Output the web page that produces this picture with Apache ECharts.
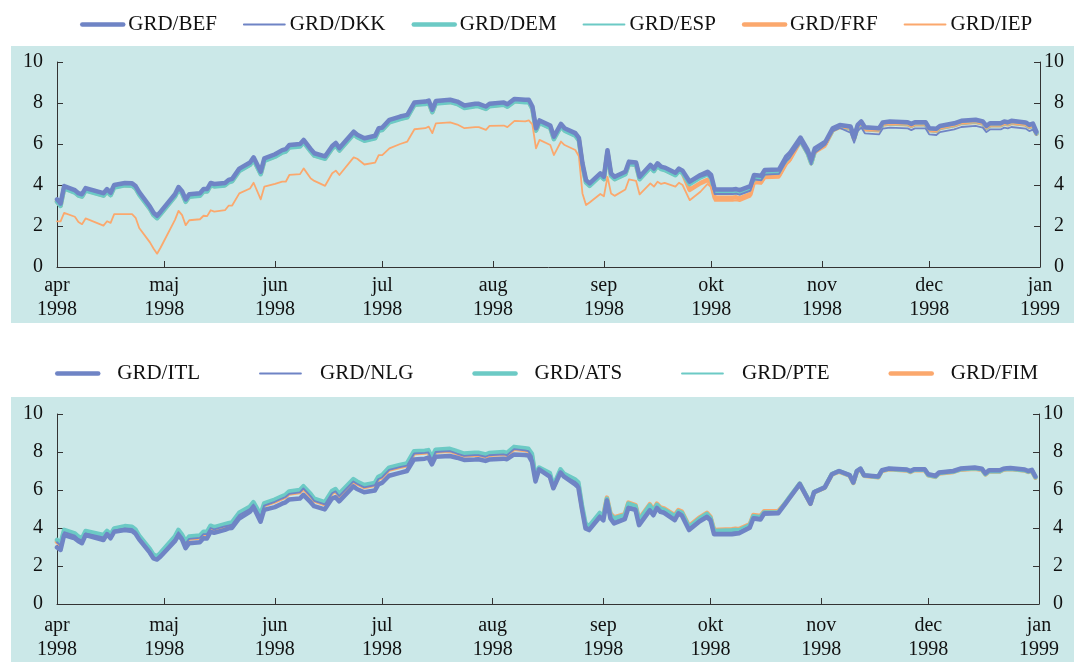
<!DOCTYPE html>
<html>
<head>
<meta charset="utf-8">
<script src="https://cdn.jsdelivr.net/npm/echarts@6/dist/echarts.min.js"></script>
<style>
html,body{margin:0;padding:0;background:#ffffff;}
#chart{width:1074px;height:662px;}
</style>
</head>
<body>
<div id="chart"></div>
<script>
const dates = [
'1998-04-01','1998-04-02','1998-04-03','1998-04-06','1998-04-07','1998-04-08','1998-04-09','1998-04-14','1998-04-15','1998-04-16','1998-04-17','1998-04-20','1998-04-22','1998-04-23','1998-04-24','1998-04-27','1998-04-28','1998-04-29','1998-04-30',
'1998-05-04','1998-05-05','1998-05-06','1998-05-07','1998-05-08','1998-05-11','1998-05-12','1998-05-13','1998-05-14','1998-05-15','1998-05-18','1998-05-19','1998-05-20','1998-05-22','1998-05-25','1998-05-26','1998-05-28','1998-05-29',
'1998-06-01','1998-06-03','1998-06-04','1998-06-05','1998-06-08','1998-06-09','1998-06-11','1998-06-12','1998-06-15','1998-06-17','1998-06-18','1998-06-19','1998-06-23','1998-06-24','1998-06-26','1998-06-29','1998-06-30',
'1998-07-01','1998-07-03','1998-07-06','1998-07-08','1998-07-10','1998-07-13','1998-07-14','1998-07-15','1998-07-16','1998-07-20','1998-07-22','1998-07-24','1998-07-27','1998-07-28','1998-07-30','1998-07-31',
'1998-08-04','1998-08-05','1998-08-07','1998-08-10','1998-08-11','1998-08-12','1998-08-13','1998-08-14','1998-08-17','1998-08-18','1998-08-20','1998-08-21','1998-08-24','1998-08-25','1998-08-26','1998-08-27','1998-08-28','1998-08-31',
'1998-09-01','1998-09-02','1998-09-03','1998-09-04','1998-09-07','1998-09-08','1998-09-10','1998-09-11','1998-09-14','1998-09-15','1998-09-16','1998-09-17','1998-09-18','1998-09-21','1998-09-22','1998-09-23','1998-09-25','1998-09-28','1998-09-30',
'1998-10-01','1998-10-02','1998-10-07','1998-10-08','1998-10-09','1998-10-12','1998-10-13','1998-10-15','1998-10-16','1998-10-20','1998-10-22','1998-10-23','1998-10-26','1998-10-28','1998-10-29','1998-10-30',
'1998-11-02','1998-11-04','1998-11-06','1998-11-09','1998-11-10','1998-11-11','1998-11-12','1998-11-13','1998-11-17','1998-11-18','1998-11-20','1998-11-25','1998-11-26','1998-11-27','1998-11-30',
'1998-12-01','1998-12-03','1998-12-04','1998-12-08','1998-12-10','1998-12-14','1998-12-16','1998-12-17','1998-12-18','1998-12-21','1998-12-22','1998-12-23','1998-12-24','1998-12-28','1998-12-29','1998-12-30','1998-12-31'
];

// Top panel
const GRD_BEF = [
3.30,3.10,3.95,3.75,3.60,3.55,3.85,3.60,3.80,3.62,4.00,4.10,4.08,3.95,3.65,2.95,2.65,2.50,2.70,
3.55,3.90,3.70,3.30,3.55,3.60,3.80,3.80,4.10,4.05,4.10,4.25,4.30,4.80,5.10,5.35,4.65,5.30,
5.50,5.70,5.75,5.95,6.00,6.20,5.75,5.55,5.40,5.90,6.05,5.80,6.60,6.45,6.28,6.40,6.77,
6.80,7.18,7.34,7.42,8.03,8.07,8.12,7.67,8.10,8.16,8.07,7.88,7.96,7.96,7.83,7.96,
8.03,7.94,8.20,8.16,8.16,7.83,6.77,7.15,6.90,6.36,6.98,6.77,6.53,6.30,5.06,4.24,4.08,4.57,
4.40,5.70,4.57,4.40,4.65,5.14,5.10,4.40,4.98,4.80,5.06,4.90,4.85,4.60,4.80,4.70,4.16,4.49,4.65,
4.49,3.78,3.78,3.80,3.75,3.95,4.49,4.45,4.73,4.76,5.38,5.55,6.31,5.71,5.22,5.79,
6.12,6.77,6.93,6.85,6.36,6.93,7.10,6.82,6.77,7.05,7.10,7.06,6.98,7.06,7.06,
6.77,6.74,6.88,7.01,7.13,7.18,7.10,6.88,7.01,7.01,7.10,7.06,7.13,7.05,6.93,7.00,6.60
];
const GRD_DKK = [
3.26,3.06,3.91,3.71,3.56,3.51,3.81,3.56,3.76,3.58,3.96,4.06,4.04,3.91,3.61,2.91,2.61,2.46,2.66,
3.51,3.86,3.66,3.26,3.51,3.56,3.76,3.76,4.06,4.01,4.06,4.21,4.26,4.76,5.06,5.31,4.61,5.26,
5.46,5.66,5.71,5.91,5.96,6.16,5.71,5.51,5.36,5.86,6.01,5.76,6.56,6.41,6.24,6.36,6.73,
6.76,7.14,7.30,7.38,7.99,8.03,8.08,7.63,8.06,8.12,8.03,7.84,7.92,7.92,7.79,7.92,
7.99,7.90,8.16,8.12,8.12,7.79,6.73,7.11,6.86,6.32,6.94,6.73,6.49,6.26,5.02,4.20,4.04,4.53,
4.36,5.66,4.53,4.36,4.61,5.10,5.06,4.36,4.94,4.76,5.02,4.86,4.81,4.56,4.76,4.66,4.12,4.40,4.52,
4.30,3.56,3.56,3.58,3.53,3.73,4.27,4.23,4.51,4.54,5.16,5.33,6.09,5.49,5.00,5.57,
5.97,6.62,6.78,6.55,6.06,6.63,6.80,6.52,6.47,6.75,6.80,6.76,6.68,6.76,6.76,
6.47,6.44,6.58,6.71,6.83,6.88,6.80,6.58,6.71,6.71,6.80,6.76,6.83,6.75,6.63,6.70,6.45
];
const GRD_DEM = [
3.18,2.98,3.83,3.63,3.48,3.43,3.73,3.48,3.68,3.50,3.88,3.98,3.96,3.83,3.53,2.83,2.53,2.38,2.58,
3.43,3.78,3.58,3.18,3.43,3.48,3.68,3.68,3.98,3.93,3.98,4.13,4.18,4.68,4.98,5.23,4.53,5.18,
5.38,5.58,5.63,5.83,5.88,6.08,5.63,5.43,5.28,5.78,5.93,5.68,6.48,6.33,6.16,6.28,6.65,
6.68,7.06,7.22,7.30,7.91,7.95,8.00,7.55,7.98,8.04,7.95,7.76,7.84,7.84,7.71,7.84,
7.91,7.82,8.08,8.04,8.04,7.71,6.65,7.03,6.78,6.24,6.86,6.65,6.41,6.18,4.94,4.12,3.96,4.45,
4.28,5.58,4.45,4.28,4.53,5.02,4.98,4.28,4.86,4.68,4.94,4.78,4.73,4.48,4.68,4.58,4.04,4.37,4.53,
4.34,3.63,3.63,3.65,3.60,3.80,4.34,4.30,4.58,4.61,5.23,5.40,6.16,5.56,5.07,5.64,
6.04,6.69,6.85,6.77,6.28,6.85,7.02,6.74,6.69,6.97,7.02,6.98,6.90,6.98,6.98,
6.69,6.66,6.80,6.93,7.05,7.10,7.02,6.80,6.93,6.93,7.02,6.98,7.05,6.97,6.85,6.92,6.52
];
const GRD_ESP = [
3.22,3.02,3.87,3.67,3.52,3.47,3.77,3.52,3.72,3.54,3.92,4.02,4.00,3.87,3.57,2.87,2.57,2.42,2.62,
3.47,3.82,3.62,3.22,3.47,3.52,3.72,3.72,4.02,3.97,4.02,4.17,4.22,4.72,5.02,5.27,4.57,5.22,
5.42,5.62,5.67,5.87,5.92,6.12,5.67,5.47,5.32,5.82,5.97,5.72,6.52,6.37,6.20,6.32,6.69,
6.72,7.10,7.26,7.34,7.95,7.99,8.04,7.59,8.02,8.08,7.99,7.80,7.88,7.88,7.75,7.88,
7.95,7.86,8.12,8.08,8.08,7.75,6.69,7.07,6.82,6.28,6.90,6.69,6.45,6.22,4.98,4.16,4.00,4.49,
4.32,5.62,4.49,4.32,4.57,5.06,5.02,4.32,4.90,4.72,4.98,4.82,4.77,4.52,4.72,4.62,4.08,4.41,4.57,
4.37,3.66,3.66,3.68,3.63,3.83,4.37,4.33,4.61,4.64,5.26,5.43,6.19,5.59,5.10,5.67,
6.06,6.71,6.87,6.79,6.30,6.87,7.04,6.76,6.71,6.99,7.04,7.00,6.92,7.00,7.00,
6.71,6.68,6.82,6.95,7.07,7.12,7.04,6.82,6.95,6.95,7.04,7.00,7.07,6.99,6.87,6.94,6.54
];
const GRD_FRF = [
3.20,3.00,3.85,3.65,3.50,3.45,3.75,3.50,3.70,3.52,3.90,4.00,3.98,3.85,3.55,2.85,2.55,2.40,2.60,
3.45,3.80,3.60,3.20,3.45,3.50,3.70,3.70,4.00,3.95,4.00,4.15,4.20,4.70,5.00,5.25,4.55,5.20,
5.40,5.60,5.65,5.85,5.90,6.10,5.65,5.45,5.30,5.80,5.95,5.70,6.50,6.35,6.18,6.30,6.67,
6.70,7.08,7.24,7.32,7.93,7.97,8.02,7.57,8.00,8.06,7.97,7.78,7.86,7.86,7.73,7.86,
7.93,7.84,8.10,8.06,8.06,7.73,6.67,7.05,6.80,6.26,6.88,6.67,6.43,6.20,4.96,4.14,3.98,4.47,
4.30,5.60,4.47,4.30,4.55,5.04,5.00,4.30,4.88,4.70,4.96,4.80,4.75,4.50,4.70,4.60,3.76,4.09,4.25,
4.09,3.38,3.38,3.40,3.35,3.55,4.19,4.15,4.43,4.46,5.08,5.25,6.16,5.56,5.07,5.64,
6.02,6.67,6.83,6.75,6.26,6.83,7.00,6.72,6.67,6.95,7.00,6.96,6.88,6.96,6.96,
6.67,6.64,6.78,6.91,7.03,7.08,7.00,6.78,6.91,6.91,7.00,6.96,7.03,6.95,6.83,6.90,6.50
];
const GRD_IEP = [
2.23,2.23,2.64,2.45,2.20,2.09,2.37,2.02,2.23,2.15,2.58,2.58,2.58,2.40,1.90,1.20,0.90,0.65,0.95,
2.30,2.74,2.53,2.04,2.28,2.33,2.50,2.48,2.77,2.70,2.77,2.99,3.00,3.59,3.83,4.11,3.30,3.92,
4.05,4.16,4.16,4.49,4.53,4.81,4.32,4.20,3.96,4.57,4.70,4.49,5.35,5.28,5.00,5.09,5.46,
5.46,5.79,6.00,6.12,6.72,6.77,6.85,6.53,7.01,7.05,6.95,6.77,6.82,6.82,6.69,6.88,
6.90,6.82,7.13,7.10,7.15,6.95,5.79,6.20,5.95,5.46,6.12,5.95,5.71,5.40,3.59,3.02,3.15,3.56,
3.45,4.40,3.59,3.47,3.78,4.27,4.20,3.54,4.08,3.92,4.16,4.05,4.10,3.92,4.11,4.00,3.26,3.67,4.05,
3.90,3.23,3.23,3.25,3.21,3.43,4.08,4.05,4.32,4.35,4.98,5.14,6.12,5.55,5.09,5.55,
5.87,6.61,6.82,6.72,6.22,6.80,6.97,6.68,6.64,6.92,6.97,6.93,6.85,6.93,6.93,
6.64,6.61,6.75,6.88,7.00,7.05,6.97,6.75,6.88,6.88,6.97,6.93,7.00,6.92,6.80,6.87,6.47
];

// Bottom panel
const GRD_ITL = [
2.98,2.85,3.63,3.45,3.30,3.20,3.63,3.37,3.68,3.46,3.80,3.89,3.84,3.70,3.40,2.70,2.40,2.34,2.50,
3.30,3.63,3.40,2.94,3.20,3.25,3.46,3.45,3.80,3.75,3.90,3.98,4.00,4.50,4.85,5.10,4.33,4.95,
5.10,5.28,5.35,5.50,5.55,5.74,5.36,5.15,4.98,5.55,5.62,5.40,6.19,6.05,5.88,5.97,6.30,
6.37,6.75,6.90,7.00,7.61,7.65,7.70,7.35,7.75,7.79,7.70,7.58,7.60,7.62,7.53,7.60,
7.65,7.62,7.87,7.84,7.82,7.50,6.45,7.09,6.70,6.09,6.92,6.70,6.31,6.14,5.00,3.98,3.89,4.58,
4.40,5.45,4.50,4.24,4.46,5.05,4.95,4.15,4.93,4.67,5.05,4.85,4.80,4.41,4.76,4.65,3.89,4.35,4.58,
4.41,3.67,3.67,3.70,3.72,4.01,4.50,4.45,4.75,4.78,5.28,5.54,6.31,5.62,5.28,5.88,
6.14,6.83,7.00,6.78,6.40,7.00,7.13,6.78,6.71,7.04,7.13,7.08,7.00,7.09,7.09,
6.83,6.75,6.92,7.00,7.13,7.18,7.12,6.88,7.04,7.04,7.12,7.15,7.16,7.08,7.00,7.06,6.71
];
const GRD_NLG = [
3.25,3.08,3.78,3.60,3.43,3.34,3.72,3.51,3.73,3.53,3.86,3.98,3.95,3.80,3.48,2.78,2.48,2.38,2.58,
3.43,3.78,3.53,3.18,3.43,3.48,3.68,3.68,4.00,3.93,4.08,4.13,4.18,4.68,5.00,5.24,4.58,5.18,
5.38,5.55,5.63,5.80,5.88,6.08,5.68,5.43,5.24,5.83,5.93,5.68,6.45,6.33,6.14,6.25,6.58,
6.66,7.06,7.20,7.28,7.92,7.95,7.98,7.58,8.00,8.05,7.92,7.80,7.84,7.84,7.75,7.83,
7.88,7.83,8.15,8.08,8.05,7.78,6.58,7.06,6.78,6.11,6.97,6.73,6.45,6.28,5.08,4.12,3.98,4.67,
4.48,5.50,4.58,4.32,4.54,5.13,5.03,4.23,5.01,4.75,5.13,4.93,4.88,4.49,4.84,4.73,3.97,4.43,4.66,
4.49,3.75,3.75,3.78,3.80,4.09,4.58,4.53,4.83,4.86,5.36,5.62,6.39,5.70,5.36,5.96,
6.11,6.80,6.97,6.75,6.37,6.97,7.10,6.75,6.68,7.01,7.10,7.05,6.97,7.06,7.06,
6.80,6.72,6.89,6.97,7.10,7.15,7.09,6.85,7.01,7.01,7.09,7.12,7.13,7.05,6.97,7.03,6.68
];
const GRD_ATS = [
3.37,3.20,3.90,3.72,3.55,3.46,3.84,3.63,3.85,3.65,3.98,4.10,4.07,3.92,3.60,2.90,2.60,2.50,2.70,
3.55,3.90,3.65,3.30,3.55,3.60,3.80,3.80,4.12,4.05,4.20,4.25,4.30,4.80,5.12,5.36,4.70,5.30,
5.50,5.67,5.75,5.92,6.00,6.20,5.80,5.55,5.36,5.95,6.05,5.80,6.57,6.45,6.26,6.37,6.70,
6.78,7.18,7.32,7.40,8.04,8.07,8.10,7.70,8.12,8.17,8.04,7.92,7.96,7.96,7.87,7.95,
8.00,7.95,8.27,8.20,8.17,7.90,6.70,7.18,6.90,6.23,7.09,6.85,6.57,6.40,5.20,4.24,4.10,4.79,
4.60,5.54,4.70,4.50,4.67,5.28,5.15,4.41,5.19,4.90,5.22,5.02,4.97,4.62,4.88,4.80,4.04,4.50,4.74,
4.53,3.84,3.88,3.90,3.88,4.14,4.62,4.57,4.82,4.83,5.33,5.59,6.34,5.64,5.29,5.89,
6.14,6.84,6.99,6.77,6.39,6.99,7.11,6.77,6.69,7.02,7.11,7.05,6.97,7.06,7.06,
6.79,6.71,6.89,6.97,7.09,7.14,7.09,6.84,6.99,6.99,7.09,7.11,7.12,7.04,6.97,7.02,6.67
];
const GRD_PTE = [
3.32,3.15,3.85,3.67,3.50,3.41,3.79,3.58,3.80,3.60,3.93,4.05,4.02,3.87,3.55,2.85,2.55,2.45,2.65,
3.50,3.85,3.60,3.25,3.50,3.55,3.75,3.75,4.07,4.00,4.15,4.20,4.25,4.75,5.07,5.31,4.65,5.25,
5.45,5.62,5.70,5.87,5.95,6.15,5.75,5.50,5.31,5.90,6.00,5.75,6.52,6.40,6.21,6.32,6.65,
6.73,7.13,7.27,7.35,7.99,8.02,8.05,7.65,8.07,8.12,7.99,7.87,7.91,7.91,7.82,7.90,
7.95,7.90,8.22,8.15,8.12,7.85,6.65,7.13,6.85,6.18,7.04,6.80,6.52,6.35,5.15,4.19,4.05,4.74,
4.55,5.50,4.65,4.45,4.62,5.23,5.10,4.37,5.14,4.85,5.17,4.97,4.92,4.57,4.83,4.75,3.99,4.45,4.69,
4.48,3.79,3.83,3.85,3.83,4.09,4.58,4.53,4.79,4.80,5.30,5.56,6.32,5.62,5.27,5.87,
6.12,6.82,6.97,6.75,6.37,6.97,7.09,6.75,6.67,7.00,7.09,7.03,6.95,7.04,7.04,
6.77,6.69,6.87,6.95,7.07,7.12,7.07,6.82,6.97,6.97,7.07,7.09,7.10,7.02,6.95,7.00,6.65
];
const GRD_FIM = [
3.27,3.10,3.80,3.62,3.45,3.36,3.74,3.53,3.75,3.55,3.88,4.00,3.97,3.82,3.50,2.80,2.50,2.40,2.60,
3.45,3.80,3.55,3.20,3.45,3.50,3.70,3.70,4.02,3.95,4.10,4.15,4.20,4.70,5.02,5.26,4.60,5.20,
5.40,5.57,5.65,5.82,5.90,6.10,5.70,5.45,5.26,5.85,5.95,5.70,6.47,6.35,6.16,6.27,6.60,
6.68,7.08,7.22,7.30,7.94,7.97,8.00,7.60,8.02,8.07,7.94,7.82,7.86,7.86,7.77,7.85,
7.90,7.85,8.17,8.10,8.07,7.80,6.60,7.08,6.80,6.13,6.99,6.75,6.47,6.30,5.10,4.14,4.00,4.69,
4.66,5.60,4.76,4.56,4.73,5.34,5.21,4.47,5.25,4.96,5.28,5.08,5.03,4.68,4.94,4.86,4.10,4.56,4.80,
4.59,3.90,3.94,3.96,3.94,4.20,4.68,4.63,4.88,4.89,5.31,5.57,6.32,5.62,5.27,5.87,
6.12,6.82,6.97,6.75,6.37,6.97,7.09,6.75,6.67,7.00,7.09,7.03,6.95,7.04,7.04,
6.77,6.69,6.87,6.95,7.07,7.12,7.07,6.82,6.97,6.97,7.07,7.09,7.10,7.02,6.95,7.00,6.65
];

const tickDates = ['1998-04-01','1998-05-01','1998-06-01','1998-07-01','1998-08-01','1998-09-01','1998-10-01','1998-11-01','1998-12-01','1999-01-01'];
const tickLabels = ['apr\n1998','maj\n1998','jun\n1998','jul\n1998','aug\n1998','sep\n1998','okt\n1998','nov\n1998','dec\n1998','jan\n1999'];
const yMin = 0, yMax = 10, yStep = 2;

const BLUE = '#6f84c5', TEAL = '#6ccac5', ORANGE = '#fba86d', BG = '#cbe8e8', AXIS = '#333333';
const FONT = 'Liberation Serif';
const THICK = 4.5, THIN = 1.8;

const toTime = d => echarts.number.parseDate(d).getTime();
const tickTimes = tickDates.map(toTime);
const dateTimes = dates.map(toTime);

function labelFor(v) {
  let best = 0, bd = Infinity;
  for (let i = 0; i < tickTimes.length; i++) {
    const d = Math.abs(tickTimes[i] - v);
    if (d < bd) { bd = d; best = i; }
  }
  return tickLabels[best];
}

function xAxisFor(gridIndex, margin) {
  return {
    type: 'value', gridIndex: gridIndex,
    min: tickTimes[0], max: tickTimes[tickTimes.length - 1],
    axisLine: { show: true, onZero: false, lineStyle: { color: AXIS, width: 1 } },
    axisTick: { show: true, inside: true, length: 6, customValues: tickTimes, lineStyle: { color: AXIS } },
    axisLabel: { show: true, customValues: tickTimes, formatter: labelFor, color: '#111', fontFamily: FONT, fontSize: 20, lineHeight: 24, margin: margin },
    splitLine: { show: false }
  };
}
function yAxesFor(gridIndex) {
  const common = {
    type: 'value', gridIndex: gridIndex, min: yMin, max: yMax, interval: yStep,
    axisLine: { show: true, lineStyle: { color: AXIS, width: 1 } },
    axisTick: { show: true, inside: true, length: 6, lineStyle: { color: AXIS } },
    splitLine: { show: false }
  };
  return [
    Object.assign({}, common, { position: 'left', axisLabel: { color: '#111', fontFamily: FONT, fontSize: 20, margin: 14 } }),
    Object.assign({}, common, { position: 'right', axisLabel: { color: '#111', fontFamily: FONT, fontSize: 20, margin: 24, align: 'right' } })
  ];
}

function pairs(vals) {
  if (vals.length !== dates.length) throw new Error('length mismatch ' + vals.length);
  return dateTimes.map((t, i) => [t, vals[i]]);
}
function line(name, vals, color, width, gi, z) {
  return {
    name: name, type: 'line', xAxisIndex: gi, yAxisIndex: gi * 2,
    data: pairs(vals), showSymbol: false, symbol: 'none',
    lineStyle: { color: color, width: width, cap: 'round', join: 'round' },
    itemStyle: { color: color },
    z: z, animation: false
  };
}
function legendItem(name, width) {
  return { name: name, itemStyle: { opacity: 0 }, lineStyle: { width: width } };
}

const chart = echarts.init(document.getElementById('chart'), null, { renderer: 'canvas' });
chart.setOption({
  animation: false,
  backgroundColor: '#ffffff',
  graphic: [
    { type: 'rect', z: -10, silent: true, shape: { x: 11, y: 46, width: 1063, height: 277 }, style: { fill: BG } },
    { type: 'rect', z: -10, silent: true, shape: { x: 11, y: 397, width: 1063, height: 265 }, style: { fill: BG } }
  ],
  legend: [
    {
      left: 75, top: 9, itemWidth: 41, itemHeight: 14, itemGap: 26,
      itemStyle: { opacity: 0 },
      textStyle: { fontFamily: FONT, fontSize: 21, color: '#111' },
      data: [legendItem('GRD/BEF', THICK), legendItem('GRD/DKK', THIN), legendItem('GRD/DEM', THICK),
             legendItem('GRD/ESP', THIN), legendItem('GRD/FRF', THICK), legendItem('GRD/IEP', THIN)]
    },
    {
      left: 50, top: 358, itemWidth: 41, itemHeight: 14, itemGap: 59,
      itemStyle: { opacity: 0 },
      textStyle: { fontFamily: FONT, fontSize: 21, color: '#111', padding: [0, 0, 0, 14] },
      data: [legendItem('GRD/ITL', THICK), legendItem('GRD/NLG', THIN), legendItem('GRD/ATS', THICK),
             legendItem('GRD/PTE', THIN), legendItem('GRD/FIM', THICK)]
    }
  ],
  grid: [
    { left: 57, top: 62, width: 983, height: 205 },
    { left: 57, top: 414, width: 982, height: 193 }
  ],
  xAxis: [xAxisFor(0, 7), xAxisFor(1, 10)],
  yAxis: yAxesFor(0).concat(yAxesFor(1)),
  series: [
    line('GRD/BEF', GRD_BEF, BLUE, THICK, 0, 8),
    line('GRD/DKK', GRD_DKK, BLUE, THIN, 0, 7),
    line('GRD/DEM', GRD_DEM, TEAL, THICK, 0, 4),
    line('GRD/ESP', GRD_ESP, TEAL, THIN, 0, 6),
    line('GRD/FRF', GRD_FRF, ORANGE, THICK, 0, 3),
    line('GRD/IEP', GRD_IEP, ORANGE, THIN, 0, 5),
    line('GRD/ITL', GRD_ITL, BLUE, THICK, 1, 8),
    line('GRD/NLG', GRD_NLG, BLUE, THIN, 1, 7),
    line('GRD/ATS', GRD_ATS, TEAL, THICK, 1, 4),
    line('GRD/PTE', GRD_PTE, TEAL, THIN, 1, 6),
    line('GRD/FIM', GRD_FIM, ORANGE, THICK, 1, 3)
  ]
});
</script>
</body>
</html>
